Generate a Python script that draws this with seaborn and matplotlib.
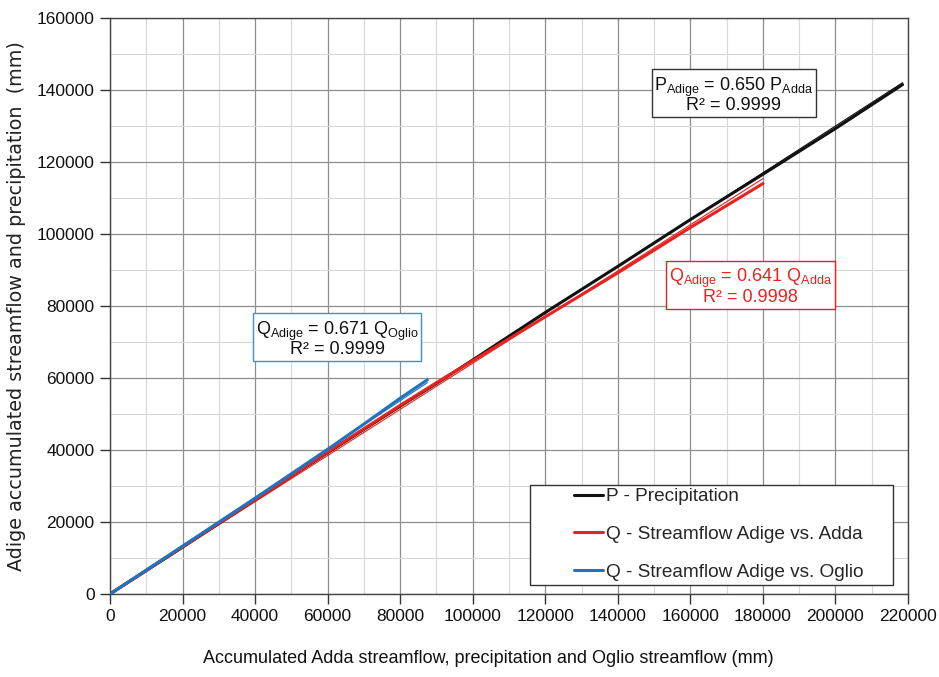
import numpy as np
import pandas as pd
import matplotlib
matplotlib.use("Agg")
import matplotlib.pyplot as plt
import seaborn as sns
from matplotlib.ticker import MultipleLocator
from matplotlib.patches import Rectangle

# ---- data ----
p_x = [0, 20000, 40000, 60000, 80000, 90000, 100000, 120000, 140000, 160000, 180000, 200000, 218500]
p_y = [0, 13000, 26200, 39300, 52200, 58500, 65000, 78200, 91000, 104000, 116600, 129300, 141500]

qadda_x = [0, 20000, 40000, 60000, 80000, 90000, 100000, 120000, 140000, 160000, 180000]
qadda_y = [0, 13100, 26200, 39400, 52400, 58700, 64800, 77000, 89200, 101800, 114000]

qoglio_x = [0, 20000, 40000, 60000, 70000, 80000, 87500]
qoglio_y = [0, 13300, 26600, 40200, 47200, 54400, 59500]

series_names = ["P - Precipitation", "Q - Streamflow Adige vs. Adda", "Q - Streamflow Adige vs. Oglio"]
series_colors = ["#111111", "#e8231f", "#1f74c0"]
trend_slopes = [0.650, 0.641, 0.671]
r2_values = ["0.9999", "0.9998", "0.9999"]

x_ticks = list(range(0, 220001, 20000))
y_ticks = list(range(0, 160001, 20000))

# ---- build table ----
df = pd.concat([
    pd.DataFrame({"x": p_x, "y": p_y, "series": series_names[0]}),
    pd.DataFrame({"x": qadda_x, "y": qadda_y, "series": series_names[1]}),
    pd.DataFrame({"x": qoglio_x, "y": qoglio_y, "series": series_names[2]}),
])

sns.set_theme(style="whitegrid")
plt.rcParams["font.family"] = ["Liberation Sans", "DejaVu Sans"]
plt.rcParams["mathtext.fontset"] = "custom"
plt.rcParams["mathtext.rm"] = "Liberation Sans"
plt.rcParams["mathtext.it"] = "Liberation Sans"

fig = plt.figure(figsize=(9.39, 6.77), dpi=100)
L, R, T, B = 110, 908, 18, 594
ax = fig.add_axes([L / 939, 1 - B / 677, (R - L) / 939, (B - T) / 677])

sns.lineplot(data=df, x="x", y="y", hue="series", hue_order=series_names,
             palette=series_colors, linewidth=2.2, ax=ax, sort=False, zorder=3)

# thin trend lines
ends = [max(p_x), max(qadda_x), max(qoglio_x)]
for s, e, c in zip(trend_slopes, ends, series_colors):
    xs = np.array([0, e])
    ax.plot(xs, s * xs, color=c, linewidth=0.8, zorder=2)

ax.set_xlim(0, 220000)
ax.set_ylim(0, 160000)
ax.set_xticks(x_ticks)
ax.set_yticks(y_ticks)
ax.xaxis.set_minor_locator(MultipleLocator(10000))
ax.yaxis.set_minor_locator(MultipleLocator(10000))
ax.grid(which="major", color="#8e8e8e", linewidth=0.9)
ax.grid(which="minor", color="#d8d8d8", linewidth=0.8)
ax.set_axisbelow(True)
for sp in ax.spines.values():
    sp.set_color("#444444")
    sp.set_linewidth(1.0)
ax.tick_params(axis="both", which="major", labelsize=12.5, length=7, width=1,
               color="#333333", direction="out", bottom=True, left=True, pad=4)
ax.tick_params(axis="both", which="minor", length=0)
for lab in ax.get_xticklabels() + ax.get_yticklabels():
    lab.set_color("#111111")

ax.set_xlabel("Accumulated Adda streamflow, precipitation and Oglio streamflow (mm)",
              fontsize=13, color="#111111")
ax.xaxis.set_label_coords((488 - L) / (R - L), -0.098)
ax.set_ylabel("Adige accumulated streamflow and precipitation  (mm)", fontsize=13.8,
              family=["DejaVu Sans"], labelpad=8, color="#222222")

# legend (frame drawn separately to mimic the wide left padding)
ax.add_patch(Rectangle(((530 - L) / (R - L), (B - 585) / (B - T)),
                       (893 - 530) / (R - L), (585 - 485) / (B - T),
                       transform=ax.transAxes, facecolor="white", edgecolor="#333333",
                       linewidth=1.0, zorder=4))
leg = ax.legend(loc="upper left", bbox_to_anchor=((574 - L) / (R - L), (B - 488) / (B - T)),
                fontsize=13.7, frameon=False, labelspacing=1.07,
                handlelength=1.55, handletextpad=0.12, borderpad=0, borderaxespad=0)
leg.set_zorder(5)
for line in leg.get_lines():
    line.set_linewidth(2.2)

def box(xc, yc, txt, color, edge):
    ax.text(xc, yc, txt, ha="center", va="center", multialignment="center",
            fontsize=13, color=color, zorder=5, linespacing=0.88,
            bbox=dict(boxstyle="square,pad=0.15", facecolor="white",
                      edgecolor=edge, linewidth=1.0))

box(172000, 138700,
    r"$\mathrm{P_{Adige}}$ = 0.650 $\mathrm{P_{Adda}}$" + "\nR² = " + r2_values[0],
    "#111111", "#333333")
box(176600, 85400,
    r"$\mathrm{Q_{Adige}}$ = 0.641 $\mathrm{Q_{Adda}}$" + "\nR² = " + r2_values[1],
    "#e8231f", "#e8231f")
box(62700, 70800,
    r"$\mathrm{Q_{Adige}}$ = 0.671 $\mathrm{Q_{Oglio}}$" + "\nR² = " + r2_values[2],
    "#111111", "#3f8fc9")

fig.savefig("out.png", dpi=100)
